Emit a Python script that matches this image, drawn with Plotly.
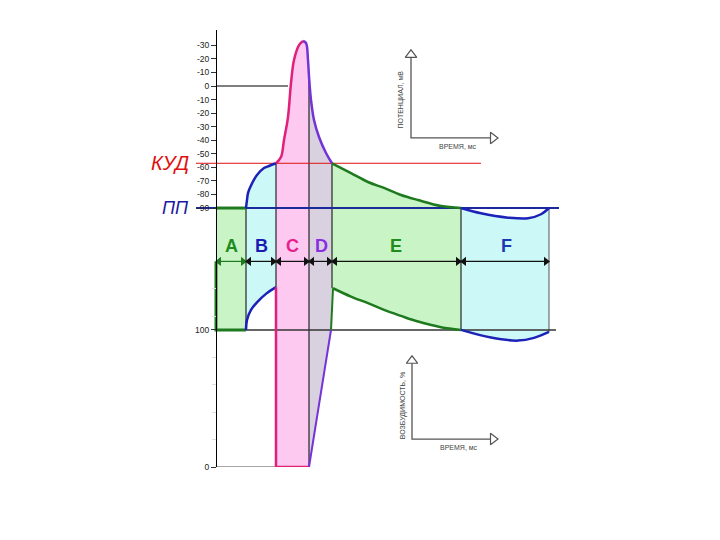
import plotly.graph_objects as go

# время (мс, схематично), потенциал (мВ), возбудимость (%)
BOUNDS = [0, 30, 60, 93, 116, 245, 333]
PHASES = ["A", "B", "C", "D", "E", "F"]
PHASE_CENTERS = [15, 45, 76, 105, 180, 290]
PHASE_COLORS = ["#1e8c1e", "#1a1ab4", "#e8208c", "#8a2ee0", "#1e8c1e", "#1a3ab4"]

KUD = -57   # критический уровень деполяризации
PP = -90    # потенциал покоя

V_TICKS = [30, 20, 10, 0, -10, -20, -30, -40, -50, -60, -70, -80, -90]
V_TICK_TEXT = ["-30", "-20", "-10", "0", "-10", "-20", "-30", "-40", "-50", "-60", "-70", "-80", "-90"]
E_TICKS = [100, 0]
E_MINOR = [20, 40, 60, 80, 110, 130]

# мембранный потенциал по фазам
t_a = [0, 30]
v_a = [-90, -90]
t_b = [30, 31, 32, 34, 38, 41, 48, 53, 60]
v_b = [-90, -84, -79, -75, -69, -65.6, -60.5, -59, -57]
t_c = [60, 65, 68, 72, 75, 78, 83, 87]
v_c = [-57, -52.4, -39.8, -22.9, 2.2, 19.2, 30.2, 33.2]
t_d = [87, 90, 92, 93, 95, 98, 103, 110, 116]
v_d = [33.2, 31.7, 19, 7, -10.3, -25.1, -37.6, -49.4, -57]
t_e = [116, 135, 152, 168, 185, 202, 225, 245]
v_e = [-57, -64.2, -70.8, -75.2, -80.4, -84.1, -88.5, -90]
t_f = [245, 265, 292, 312, 325, 333]
v_f = [-90, -93.9, -97.1, -97.6, -94.6, -90]

# возбудимость по фазам
te_a = [0, 0, 30]
e_a = [150, 100, 100]
te_b = [30, 31, 35, 41.7, 50, 60]
e_b = [100, 107.3, 114.6, 120.7, 126.3, 131.2]
te_c = [60, 60, 93]
e_c = [131.2, 0, 0]
te_d = [93, 115]
e_d = [0, 100]
te_e_jump = [115, 117]
e_e_jump = [100, 130.4]
te_e = [117, 135, 152, 168, 185, 202, 225, 245]
e_e = [130.4, 124.3, 119.5, 114.6, 110.2, 106.1, 102, 100]
te_f = [245, 275, 302, 318, 333]
e_f = [100, 94.4, 92.2, 94.2, 98.5]

# нижний график (возбудимость) рисуется на той же оси, со сдвигом
EXC0 = -281
EXC_K = 1.011
ARROW_E = 150
LETTER_E = 161


def ex(vals):
    return [EXC0 + EXC_K * v for v in vals]


GREEN_FILL = "#c9f5c6"
CYAN_FILL = "#cdf8f8"
PINK_FILL = "#fdc9f1"
GREY_FILL = "#d9d1e0"
GREEN = "#1f7a1f"
BLUE = "#1c22b8"
PINK = "#e0207a"
PURPLE = "#7433d6"
NAVY = "#1a2a9a"

fig = go.Figure()


def poly(x, y, color):
    fig.add_trace(go.Scatter(x=x, y=y, fill="toself", fillcolor=color, mode="none",
                             hoverinfo="skip", showlegend=False))


def line(x, y, color, width=2.5, shape="spline"):
    fig.add_trace(go.Scatter(x=x, y=y, mode="lines", hoverinfo="skip", showlegend=False,
                             line=dict(color=color, width=width, shape=shape)))


# заливки фаз
poly(t_a + t_a[::-1], v_a + ex([100, 100]), GREEN_FILL)
poly(t_b + te_b[::-1], v_b + ex(e_b[::-1]), CYAN_FILL)
c_top_t = t_c + [t for t in t_d if t <= 93]
c_top_v = v_c + [v for t, v in zip(t_d, v_d) if t <= 93]
poly(c_top_t + [93, 60], c_top_v + ex([0, 0]), PINK_FILL)
d_t = [t for t in t_d if t >= 93]
d_v = [v for t, v in zip(t_d, v_d) if t >= 93]
poly(d_t + [116, 93], d_v + ex([100, 0]), GREY_FILL)
poly(t_e + te_e[::-1] + te_e_jump[::-1], v_e + ex(e_e[::-1]) + ex(e_e_jump[::-1]), GREEN_FILL)
poly(t_f + te_f[::-1], v_f + ex(e_f[::-1]), CYAN_FILL)

# границы фаз
line([t_b[0], t_b[0]], [v_b[0], ex([e_b[0]])[0]], "black", 1, "linear")
line([t_c[0], t_c[0]], [v_c[0], ex([e_b[-1]])[0]], "black", 1, "linear")
line([93, 93], [d_v[0], ex([0])[0]], "black", 1, "linear")
line([t_e[0], t_e[0]], [v_e[0], ex([e_e[0]])[0]], "black", 1, "linear")
line([t_f[0], t_f[0]], [v_f[0], ex([e_f[0]])[0]], "black", 1, "linear")
line([t_f[-1], t_f[-1]], [v_f[-1], ex([e_f[-1]])[0]], "#555555", 1, "linear")

# опорные горизонтали
line([-20, 265], [KUD, KUD], "#e01010", 1, "linear")
line([0, 72], [0, 0], "black", 1, "linear")
line([0, 340], ex([100, 100]), "#333333", 1.5, "linear")
line([0, 60], ex([0, 0]), "#888888", 1.5, "linear")
line([-20, 343], [PP, PP], NAVY, 2, "linear")

# кривая потенциала
line(t_a, v_a, GREEN, 3, "linear")
line(t_b, v_b, BLUE)
line(t_c, v_c, PINK)
line(t_d, v_d, PURPLE)
line(t_e, v_e, GREEN)
line(t_f, v_f, BLUE)

# кривая возбудимости
line(te_a, ex(e_a), GREEN, 3, "linear")
line(te_b, ex(e_b), BLUE)
line(te_c, ex(e_c), PINK, 2.5, "linear")
line(te_d, ex(e_d), PURPLE, 2, "linear")
line(te_e_jump, ex(e_e_jump), GREEN, 2, "linear")
line(te_e, ex(e_e), GREEN)
line(te_f, ex(e_f), BLUE)

# стрелки-интервалы и буквы фаз
for i, name in enumerate(PHASES):
    a, b = BOUNDS[i], BOUNDS[i + 1]
    col = GREEN if i == 0 else "#111111"
    fig.add_trace(go.Scatter(
        x=[a + 3, b - 3], y=ex([ARROW_E, ARROW_E]), mode="lines+markers",
        line=dict(color=col, width=1.2),
        marker=dict(symbol=["triangle-left", "triangle-right"], size=8, color=col),
        hoverinfo="skip", showlegend=False))
    fig.add_annotation(x=PHASE_CENTERS[i], y=ex([LETTER_E])[0], text="<b>%s</b>" % name,
                       showarrow=False, font=dict(size=18, color=PHASE_COLORS[i],
                                                  family="Liberation Sans, Arial"))

# условные оси справа
line([195, 195, 275], [21.4, -38.3, -38.3], "#555555", 1.3, "linear")
line([196, 196, 275], ex([75.9, 20.4, 20.4]), "#555555", 1.3, "linear")
fig.add_trace(go.Scatter(
    x=[195, 277, 196, 277], y=[23, -38.3] + ex([77.5, 20.4]), mode="markers",
    marker=dict(symbol=["triangle-up", "triangle-right", "triangle-up", "triangle-right"],
                size=10, color="white", line=dict(color="#555555", width=1.2)),
    hoverinfo="skip", showlegend=False))
small = dict(size=7, color="#444444", family="Liberation Sans, Arial")
fig.add_annotation(x=185, y=-10, text="ПОТЕНЦИАЛ, мВ", textangle=-90, showarrow=False, font=small)
fig.add_annotation(x=242, y=-44.5, text="ВРЕМЯ, мс", showarrow=False, font=small)
fig.add_annotation(x=187, y=ex([45])[0], text="ВОЗБУДИМОСТЬ, %", textangle=-90, showarrow=False, font=small)
fig.add_annotation(x=243, y=ex([14])[0], text="ВРЕМЯ, мс", showarrow=False, font=small)

# подписи уровней
fig.add_annotation(x=0, xref="paper", xanchor="right", y=KUD, text="<i>КУД</i>", showarrow=False,
                   font=dict(size=20, color="#e01010", family="Liberation Sans, Arial"))
fig.add_annotation(x=0, xref="paper", xanchor="right", y=PP, text="<i>ПП</i>", showarrow=False,
                   font=dict(size=18, color="#1a1aa0", family="Liberation Sans, Arial"))

fig.update_layout(
    width=720, height=540,
    margin=dict(l=183, r=167, t=22, b=81),
    paper_bgcolor="white", plot_bgcolor="white",
    showlegend=False,
    xaxis=dict(range=[-25, 345], visible=False, fixedrange=True),
    yaxis=dict(
        range=[EXC0, 41.3], anchor="free", position=25 / 370,
        showline=True, linecolor="black", linewidth=1,
        showgrid=False, zeroline=False,
        ticks="outside", ticklen=5, tickcolor="#333333",
        tickvals=V_TICKS + ex(E_TICKS), ticktext=V_TICK_TEXT + ["100", "0"],
        tickfont=dict(size=8.5, color="#222222", family="Liberation Sans, Arial"),
        minor=dict(tickvals=ex(E_MINOR), ticks="outside", ticklen=4, tickcolor="#dddddd"),
    ),
)

fig.write_html("out.html")
